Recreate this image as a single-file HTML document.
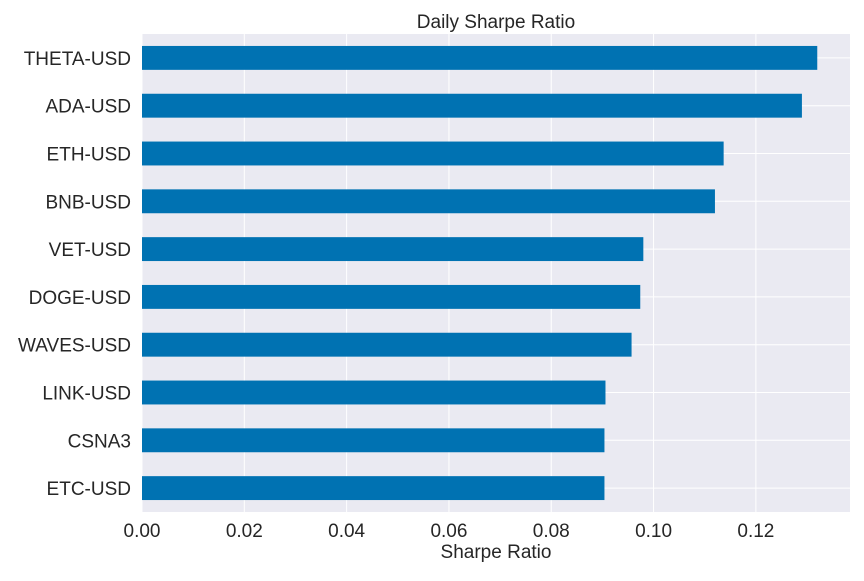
<!DOCTYPE html>
<html><head><meta charset="utf-8"><style>
body{margin:0;background:#fff;}
svg text{font-family:"Liberation Sans",Arial,sans-serif;fill:#262626;}
</style></head><body>
<svg id="chart" width="864" height="576">
<rect x="142" y="34" width="708" height="478" fill="#eaeaf2"/>
<g id="grid"></g><g id="bars"></g><g id="yticks"></g><g id="xticks"></g>
<text x="496" y="28" font-size="19" text-anchor="middle">Daily Sharpe Ratio</text>
<text x="496" y="558" font-size="19" text-anchor="middle">Sharpe Ratio</text>
</svg>
<script>
const categories=["THETA-USD","ADA-USD","ETH-USD","BNB-USD","VET-USD","DOGE-USD","WAVES-USD","LINK-USD","CSNA3","ETC-USD"];
const values=[0.1320,0.1290,0.1137,0.1120,0.0980,0.0974,0.0957,0.0906,0.0904,0.0904];
const xTicks=[0,0.02,0.04,0.06,0.08,0.10,0.12];
const xTickLabels=["0.00","0.02","0.04","0.06","0.08","0.10","0.12"];
const NS="http://www.w3.org/2000/svg";
const L=142,R=850,T=34,B=512;
const xMax=0.1384;
const xs=v=>L+(v/xMax)*(R-L);
const step=(B-T)/categories.length;
const yc=i=>T+step*(i+0.5);
function mk(p,tag,a){const e=document.createElementNS(NS,tag);for(const k in a)e.setAttribute(k,a[k]);document.getElementById(p).appendChild(e);return e;}
xTicks.forEach((t,i)=>{
 const g=mk('grid','line',{x1:xs(t),x2:xs(t),y1:T,y2:B,stroke:'#fff','stroke-width':1});
 
 
 const tx=mk('xticks','text',{x:xs(t),y:B+25,'font-size':19,'text-anchor':'middle'});
 tx.textContent=xTickLabels[i];
 
 
});
categories.forEach((c,i)=>{
 const g=mk('grid','line',{x1:L,x2:R,y1:yc(i),y2:yc(i),stroke:'#fff','stroke-width':1});
 
 
 const h=step*0.5;
 const b=mk('bars','rect',{x:L,y:yc(i)-h/2,width:xs(values[i])-L,height:h,fill:'#0072b2'});
 
 
 const tx=mk('yticks','text',{x:L-11,y:yc(i)+7,'font-size':19,'text-anchor':'end'});
 tx.textContent=c;
 
 
});
</script>
</body></html>
